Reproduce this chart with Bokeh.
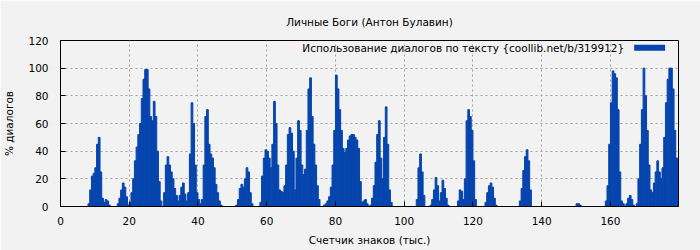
import numpy as np
from bokeh.plotting import figure
from bokeh.models import Range1d, Label, BoxAnnotation
from bokeh.embed import file_html
from bokeh.resources import INLINE

title = "Личные Боги (Антон Булавин)"
x_label = "Счетчик знаков (тыс.)"
y_label = "% диалогов"
series_name = "Использование диалогов по тексту {coollib.net/b/319912}"
x_ticks = [0, 20, 40, 60, 80, 100, 120, 140, 160]
y_ticks = [0, 20, 40, 60, 80, 100, 120]
step = 0.5  # thousand characters per bar

dialog_share = [
    0, 0, 0, 0, 0, 0, 0, 0, 0, 0, 0, 0, 0, 0, 0, 0, 2, 12, 22, 24,
    28, 45, 50, 25, 6, 3, 5, 4, 1, 0, 0, 0, 0, 2, 6, 12, 17, 14, 7, 1,
    3, 10, 20, 33, 43, 52, 60, 78, 92, 99, 99, 85, 65, 62, 76, 65, 40, 18, 4, 0,
    10, 30, 36, 30, 25, 20, 13, 8, 4, 8, 14, 17, 9, 4, 10, 38, 75, 60, 30, 10,
    5, 2, 5, 30, 65, 70, 45, 38, 35, 28, 16, 10, 4, 1, 0, 0, 0, 0, 0, 0,
    0, 0, 1, 5, 13, 16, 14, 20, 28, 25, 10, 2, 0, 0, 0, 0, 3, 22, 35, 41,
    40, 35, 28, 45, 76, 60, 30, 12, 11, 10, 15, 30, 52, 57, 53, 40, 12, 35, 62, 55,
    30, 23, 27, 55, 85, 93, 65, 45, 30, 15, 5, 0, 0, 1, 2, 4, 7, 14, 30, 55,
    95, 85, 70, 55, 42, 39, 42, 48, 51, 52, 52, 50, 48, 42, 18, 3, 4, 5, 2, 0,
    1, 6, 15, 32, 52, 62, 35, 20, 50, 72, 45, 12, 3, 0, 0, 0, 0, 0, 0, 0,
    0, 0, 0, 0, 0, 0, 0, 5, 28, 38, 25, 8, 0, 0, 0, 1, 5, 12, 21, 15,
    4, 10, 19, 13, 6, 1, 0, 0, 0, 0, 0, 4, 12, 11, 5, 20, 62, 70, 65, 55,
    33, 5, 0, 0, 0, 0, 0, 3, 10, 15, 17, 14, 6, 1, 0, 0, 0, 0, 0, 0,
    0, 0, 0, 0, 0, 0, 0, 4, 13, 26, 36, 41, 33, 12, 0, 0, 0, 0, 0, 0,
    0, 0, 0, 0, 0, 0, 0, 0, 0, 0, 0, 0, 0, 0, 0, 0, 0, 0, 0, 0,
    2, 2, 1, 0, 0, 0, 0, 0, 0, 0, 0, 0, 0, 0, 0, 0, 0, 4, 15, 45,
    75, 98, 96, 93, 70, 25, 4, 2, 0, 2, 6, 8, 5, 1, 0, 2, 20, 45, 70, 100,
    80, 55, 30, 12, 10, 17, 25, 33, 25, 20, 28, 50, 75, 92, 100, 100, 85, 55, 35, 0,
]

BLUE = "#0645ad"
BG = "#f2f2f2"
FONT = "DejaVu Sans"
FS = "10.5px"

left = np.arange(len(dialog_share)) * step
right = left + step
heights = np.array(dialog_share, dtype=float)
shown = heights > 0

p = figure(width=700, height=250, output_backend="svg", toolbar_location=None,
           x_range=Range1d(0, 179.8), y_range=Range1d(0, 120),
           min_border_left=60, min_border_right=22, min_border_top=40,
           min_border_bottom=44, title=title)
p.background_fill_color = BG
p.border_fill_color = BG
p.outline_line_color = "black"
p.outline_line_width = 1

p.title.align = "center"
p.title.text_font = FONT
p.title.text_font_size = FS
p.title.text_font_style = "normal"
p.title.text_color = "black"
p.title.standoff = 25

p.quad(left=left[shown], right=right[shown], bottom=0, top=heights[shown],
       fill_color=BLUE, line_color=BLUE, line_width=1)

for ax in (p.xaxis[0], p.yaxis[0]):
    ax.major_label_text_font = FONT
    ax.major_label_text_font_size = FS
    ax.major_label_text_color = "black"
    ax.axis_label_text_font = FONT
    ax.axis_label_text_font_size = FS
    ax.axis_label_text_font_style = "normal"
    ax.axis_label_text_color = "black"
    ax.major_tick_in = 5
    ax.major_tick_out = 0
    ax.minor_tick_in = 0
    ax.minor_tick_out = 0
    ax.axis_line_color = "black"
    ax.major_tick_line_color = "black"

p.xaxis.ticker = x_ticks
p.yaxis.ticker = y_ticks
p.xaxis.axis_label = x_label
p.yaxis.axis_label = y_label
p.xaxis.major_label_standoff = 10
p.yaxis.major_label_standoff = 12
p.xaxis.axis_label_standoff = 6
p.yaxis.axis_label_standoff = 10

for g in (p.xgrid[0], p.ygrid[0]):
    g.grid_line_color = "#a0a0a0"
    g.grid_line_dash = "2 3"
    g.grid_line_width = 1

p.add_layout(Label(x=164, y=114.8, text=series_name, text_align="right",
                   text_baseline="middle", text_font=FONT,
                   text_font_size=FS, text_color="black"))
p.add_layout(BoxAnnotation(left=166.9, right=175.9, bottom=112.6, top=116.9,
                           fill_color=BLUE, fill_alpha=1, line_color=None))

open("out.html", "w").write(file_html(p, INLINE))
